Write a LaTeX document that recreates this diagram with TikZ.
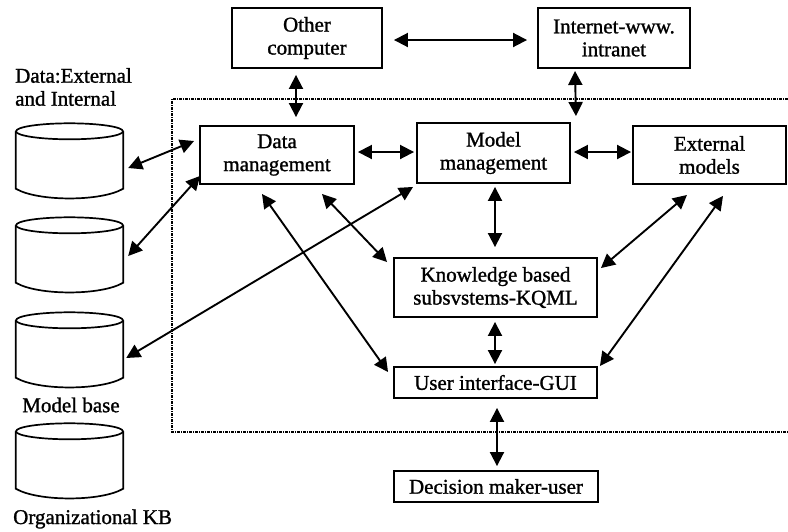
\documentclass[tikz,border=0pt]{standalone}
\usepackage{fontspec}
\setmainfont{Liberation Serif}
\newfontfamily\heavyserif{Liberation Serif}[FakeBold=1.2]
\usetikzlibrary{arrows.meta}
\newcommand{\drawcyl}[1]{%
  \draw[cyl] ([yshift=-8pt]#1.north west) -- ([yshift=10pt]#1.south west)
    .. controls +(22pt,-13pt) and +(-22pt,-13pt) .. ([yshift=10pt]#1.south east)
    -- ([yshift=-8pt]#1.north east);
  \draw[cyl] ([yshift=-8pt]#1.north) ellipse [x radius=53.5pt, y radius=8pt];}
\begin{document}
\begin{tikzpicture}[x=1pt,y=-1pt,
  txt/.style={font=\heavyserif\fontsize{21}{23}\selectfont},
  box/.style={draw, line width=1.9pt, inner sep=0pt, align=center, txt},
  arr/.style={line width=1.9pt, {Triangle[length=14pt,width=14pt]}-{Triangle[length=14pt,width=14pt]}},
  cylbox/.style={inner sep=0pt, minimum width=107pt, minimum height=75pt},
  cyl/.style={line width=1.7pt},
  lbl/.style={txt, align=left, inner sep=0pt},
  frame/.style={line width=1.3pt, dash pattern=on 3pt off 1pt on 1pt off 1pt}]
\useasboundingbox (0,0) rectangle (788,531);

% dashed frame
\draw[frame] (788,99) -- (172,99) -- (172,432) -- (788,432);

% boxes
\node[box, minimum width=150pt, minimum height=60pt] (oc) at (307,38) {Other\\computer};
\node[box, minimum width=152pt, minimum height=60pt] (inet) at (614,38) {Internet-www.\\intranet};
\node[box, minimum width=154pt, minimum height=58pt] (dm) at (277,155) {Data\\management};
\node[box, minimum width=153pt, minimum height=60pt] (mm) at (493.5,153) {Model\\management};
\node[box, minimum width=153pt, minimum height=58pt] (em) at (709.5,155) {External\\models};
\node[box, minimum width=203pt, minimum height=59pt] (kb) at (495.5,287.5) {Knowledge based\\subsvstems-KQML};
\node[box, minimum width=203pt, minimum height=31pt] (ui) at (495.5,382.5) {User interface-GUI};
\node[box, minimum width=204pt, minimum height=31pt] (dmu) at (496,486.5) {Decision maker-user};

% cylinders
\node[cylbox] (c1) at (69.5,161) {};
\node[cylbox] (c2) at (69.5,255) {};
\node[cylbox] (c3) at (69.5,350) {};
\node[cylbox] (c4) at (69.5,461) {};
\drawcyl{c1}\drawcyl{c2}\drawcyl{c3}\drawcyl{c4}

% labels
\node[lbl, anchor=west] (l1) at (15,87) {Data:External\\and Internal};
\node[lbl] (l3) at (71,405) {Model base};
\node[lbl, anchor=west] (l4) at (13,519) {Organizational KB};

% connectors
\draw[arr] ([shift={(11,2)}]oc.east) -- ([shift={(-10,2)}]inet.west);
\draw[arr] ([shift={(-11,6)}]oc.south) -- ([shift={(19,-8)}]dm.north);
\draw[arr] ([shift={(-39,2)}]inet.south) -- ([shift={(5,-6)}]mm.north east);
\draw[arr] ([shift={(3,-3)}]dm.east) -- ([shift={(-2,-1)}]mm.west);
\draw[arr] ([shift={(3,-1)}]mm.east) -- ([shift={(-1,-3)}]em.west);
\draw[arr] ([shift={(1.5,3)}]mm.south) -- ([shift={(-0.5,-10)}]kb.north);
\draw[arr] ([shift={(45,9)}]dm.south) -- ([shift={(-6,5)}]kb.north west);
\draw[arr] ([shift={(-15,9)}]dm.south) -- ([shift={(-5,-10.5)}]ui.west);
\draw[arr] ([shift={(5,7)}]c1.east) -- ([shift={(-5,-14)}]dm.west);
\draw[arr] ([shift={(5,1)}]c2.east) -- ([shift={(1,-9)}]dm.south west);
\draw[arr] ([shift={(3,8)}]c3.east) -- ([shift={(-3,3)}]mm.south west);
\draw[arr] ([shift={(3,11)}]kb.north east) -- ([shift={(-22.5,10)}]em.south);
\draw[arr] ([shift={(2,0)}]ui.north east) -- ([shift={(13.5,11)}]em.south);
\draw[arr] ([shift={(-0.5,4)}]kb.south) -- ([shift={(-0.5,-2)}]ui.north);
\draw[arr] ([shift={(1.5,9)}]ui.south) -- ([shift={(1,-4)}]dmu.north);
\end{tikzpicture}
\end{document}
